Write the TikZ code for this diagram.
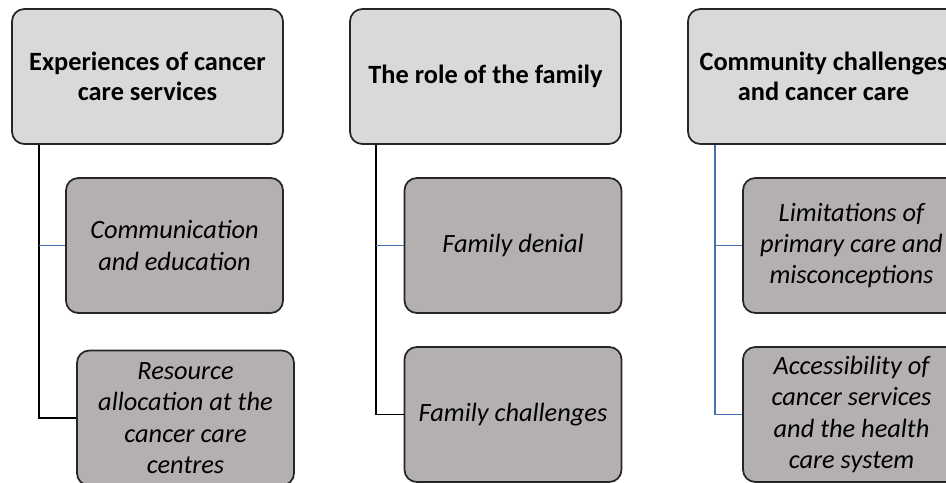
\documentclass[tikz,border=0pt]{standalone}
\usepackage{fontspec}
\setmainfont{Carlito}
\usetikzlibrary{positioning}

\definecolor{themeGray}{HTML}{D9D9D9}
\definecolor{subGray}{HTML}{B4B0B0}
\definecolor{edgeGray}{HTML}{262626}
\definecolor{linkBlue}{HTML}{4A6FB0}

\begin{document}
\begin{tikzpicture}[
    themebox/.style={draw=edgeGray, line width=1pt, fill=themeGray, rounded corners=7pt,
        minimum width=5.42cm, minimum height=2.7cm, align=center,
        font=\fontsize{15}{17}\selectfont\bfseries},
    subbox/.style={draw=edgeGray, line width=1pt, fill=subGray, rounded corners=7pt,
        minimum width=4.34cm, minimum height=2.7cm, align=center,
        font=\fontsize{15}{17.8}\selectfont\itshape},
    trunk/.style={black, line width=0.8pt},
    twig/.style={linkBlue, line width=0.8pt}
]
\useasboundingbox (0,0) rectangle (18.92,9.64);
\clip (0,0) rectangle (18.92,9.64);

% theme headers
\node[themebox] (h1) at (2.95,8.11) {Experiences of cancer\\care services};
\node[themebox] (h2) at (9.71,8.11) {The role of the family};
\node[themebox] (h3) at (16.47,8.11) {Community challenges\\and cancer care};

% sub-themes
\node[subbox] (c11) at (3.49,4.73) {Communication\\and education};
\node[subbox] (c12) at (3.71,1.28) {Resource\\allocation at the\\cancer care\\centres};
\node[subbox] (c21) at (10.26,4.73) {Family denial};
\node[subbox] (c22) at (10.26,1.35) {Family challenges};
\node[subbox] (c31) at (17.03,4.73) {Limitations of\\primary care and\\misconceptions};
\node[subbox] (c32) at (17.03,1.35) {Accessibility of\\cancer services\\and the health\\care system};

% connectors
\coordinate[right=0.56cm of h1.south west] (s1);
\coordinate[right=0.54cm of h2.south west] (s2);
\coordinate[right=0.56cm of h3.south west] (s3);

\draw[trunk] (s1) |- (c12.west);
\draw[twig] (s1 |- c11.west) -- (c11.west);
\draw[trunk] (s2) |- (c22.west);
\draw[twig] (s2 |- c21.west) -- (c21.west);
\draw[twig] (s3) |- (c32.west);
\draw[twig] (s3 |- c31.west) -- (c31.west);

\end{tikzpicture}
\end{document}
